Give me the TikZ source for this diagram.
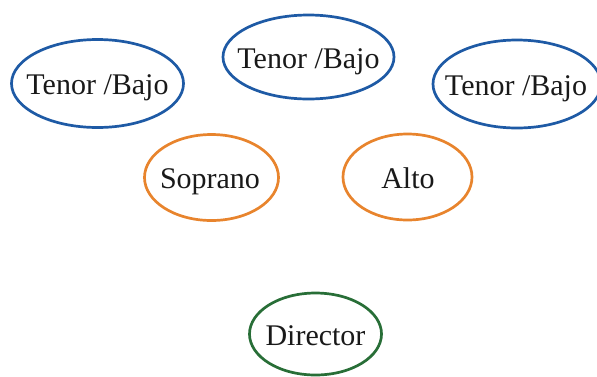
\documentclass[tikz,border=0pt]{standalone}
\usepackage{fontspec}
\setmainfont{Liberation Serif}
\tikzset{
  label/.style={inner sep=0pt, font=\fontsize{30}{35}\selectfont, text=black!90, anchor=base},
  ring/.style={line width=2.7pt}
}
\definecolor{tbblue}{RGB}{30,90,165}
\definecolor{sorange}{RGB}{232,132,45}
\definecolor{dgreen}{RGB}{40,110,55}
\begin{document}
\begin{tikzpicture}[x=1pt,y=-1pt]
\useasboundingbox (0,0) rectangle (597,376);
\node[label] (tb1) at (97.5,94) {Tenor /Bajo};
\node[label] (tb2) at (308.5,68) {Tenor /Bajo};
\node[label] (tb3) at (516,95) {Tenor /Bajo};
\node[label] (sop) at (210,188) {Soprano};
\node[label] (alto) at (408,188) {Alto};
\node[label] (dir) at (315.5,345) {Director};
\draw[ring, tbblue] (97.5,83.5) ellipse [x radius=86, y radius=44];
\draw[ring, tbblue] (308.5,57) ellipse [x radius=85.5, y radius=42];
\draw[ring, tbblue] (517,84) ellipse [x radius=84, y radius=44];
\draw[ring, sorange] (211.5,177.5) ellipse [x radius=67, y radius=43];
\draw[ring, sorange] (407.5,177) ellipse [x radius=64.5, y radius=43];
\draw[ring, dgreen] (315.5,334) ellipse [x radius=66, y radius=41];
\end{tikzpicture}
\end{document}
